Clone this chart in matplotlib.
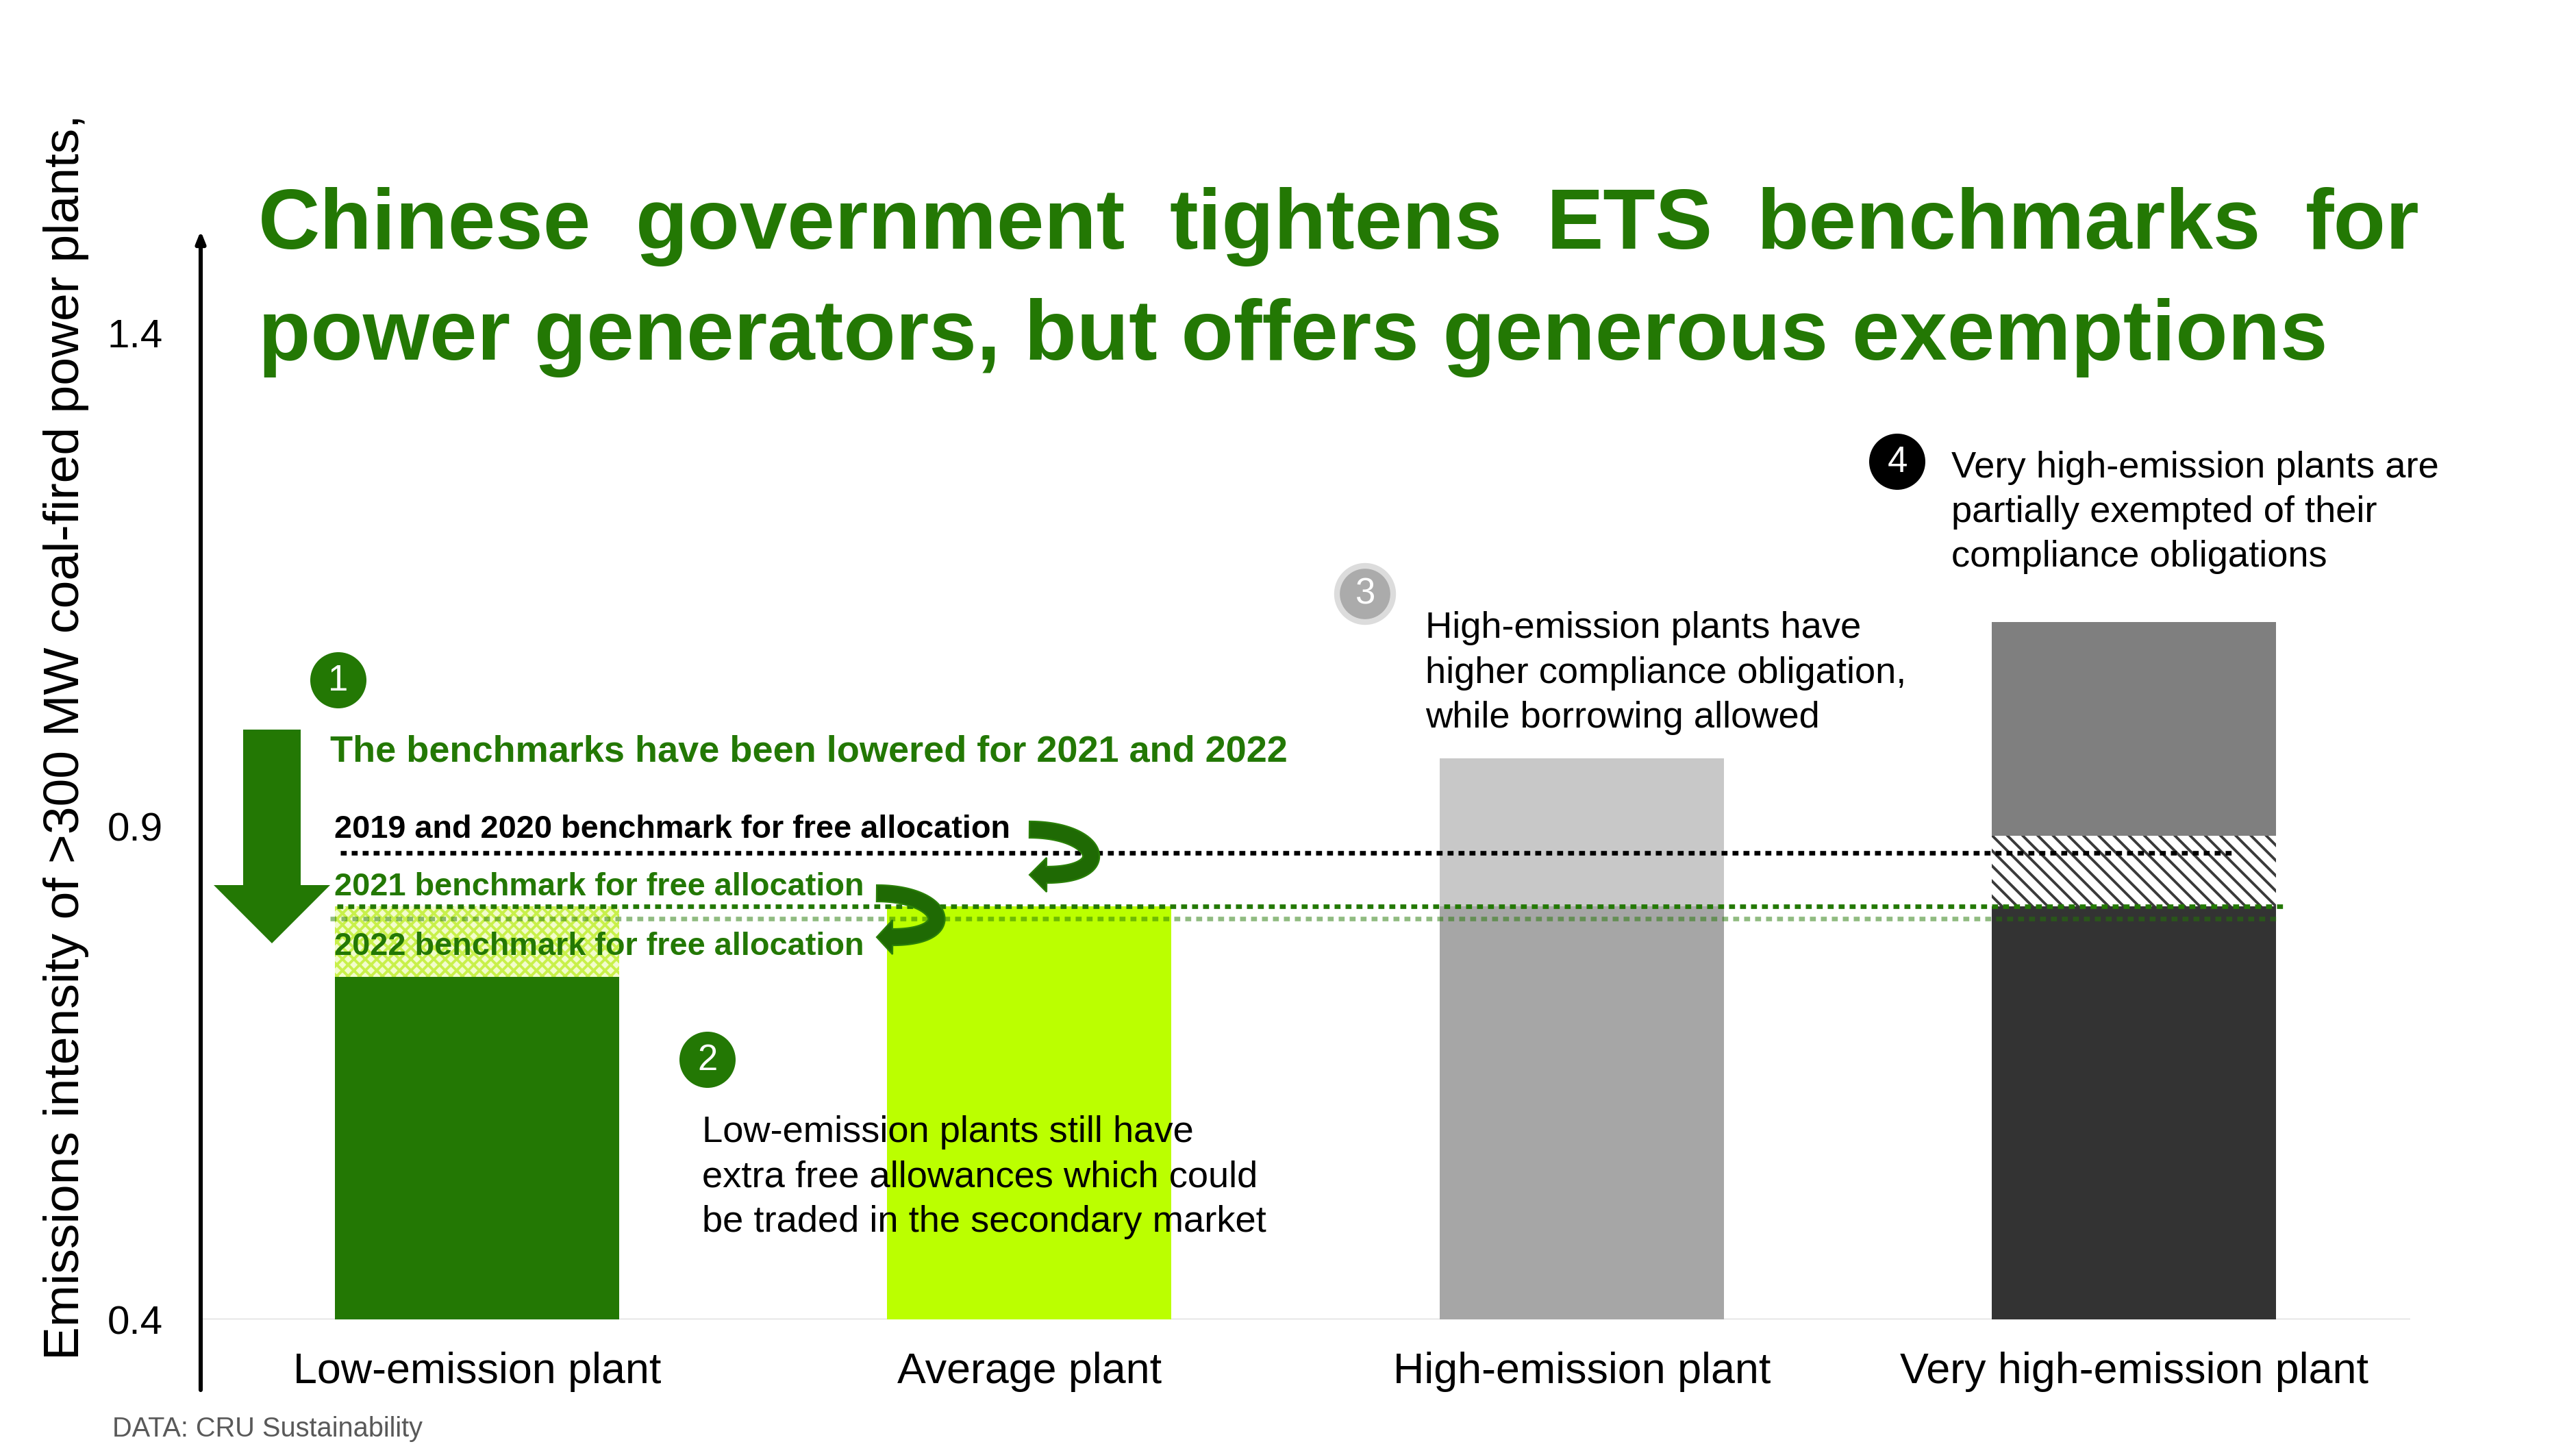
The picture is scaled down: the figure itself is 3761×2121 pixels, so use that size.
import matplotlib
matplotlib.use('Agg')
import numpy as np
import matplotlib.pyplot as plt
from matplotlib.patches import Circle, Polygon

# ---------------- data ----------------
categories = ['Low-emission plant', 'Average plant', 'High-emission plant',
              'Very high-emission plant']
plant_intensity = [0.747, 0.819, 0.969, 1.107]
benchmark_2019_2020 = 0.873
benchmark_2021 = 0.819
benchmark_2022 = 0.806
exemption_cap = 0.890
y_ticks = [0.4, 0.9, 1.4]
y_tick_labels = ['0.4', '0.9', '1.4']
y_base = 0.4

title_line1 = 'Chinese government tightens ETS benchmarks for'
title_line2 = 'power generators, but offers generous exemptions'
note1 = 'The benchmarks have been lowered for 2021 and 2022'
label_2019 = '2019 and 2020 benchmark for free allocation'
label_2021 = '2021 benchmark for free allocation'
label_2022 = '2022 benchmark for free allocation'
note2 = ['Low-emission plants still have', 'extra free allowances which could',
         'be traded in the secondary market']
note3 = ['High-emission plants have', 'higher compliance obligation,',
         'while borrowing allowed']
note4 = ['Very high-emission plants are', 'partially exempted of their',
         'compliance obligations']
y_label = 'Emissions intensity of >300 MW coal-fired power plants,'
source = 'DATA: CRU Sustainability'

# ---------------- style ----------------
W, H, DPI = 3761, 2121, 200
GREEN = '#237804'
LIME = '#bbff00'
FONT = 'Liberation Sans'
plt.rcParams['font.family'] = [FONT, 'DejaVu Sans']
plt.rcParams['hatch.linewidth'] = 1.4

fig = plt.figure(figsize=(W / DPI, H / DPI), dpi=DPI)
IN = fig.dpi_scale_trans


def P(x, y):
    """pixel (from top-left) -> inches for dpi_scale_trans"""
    return (x / DPI, (H - y) / DPI)


ax = fig.add_axes([293 / W, 1 - 1926 / H, (3519 - 293) / W, (1926 - 486) / H])
ax.set_xlim(-0.5, 3.5)
ax.set_ylim(0.4, 1.4)
for s in ax.spines.values():
    s.set_visible(False)

x = list(range(len(categories)))
bw = 0.515

# low-emission plant
ax.bar(x[0], plant_intensity[0] - y_base, bottom=y_base, width=bw, color=GREEN, lw=0, zorder=2)
ax.bar(x[0], benchmark_2021 - plant_intensity[0], bottom=plant_intensity[0], width=bw,
       facecolor='#f2fccc', edgecolor='#c8f04a', hatch='xxxx', lw=0, zorder=2)
# average plant
ax.bar(x[1], plant_intensity[1] - y_base, bottom=y_base, width=bw, color=LIME, lw=0, zorder=2)
# high-emission plant
ax.bar(x[2], benchmark_2021 - y_base, bottom=y_base, width=bw, color='#a6a6a6', lw=0, zorder=2)
ax.bar(x[2], plant_intensity[2] - benchmark_2021, bottom=benchmark_2021, width=bw,
       color='#c8c8c8', lw=0, zorder=2)
# very high-emission plant
ax.bar(x[3], benchmark_2021 - y_base, bottom=y_base, width=bw, color='#333333', lw=0, zorder=2)
ax.bar(x[3], exemption_cap - benchmark_2021, bottom=benchmark_2021, width=bw,
       facecolor='white', edgecolor='#3a3a3a', hatch='\\\\\\', lw=0, zorder=2)
ax.bar(x[3], plant_intensity[3] - exemption_cap, bottom=exemption_cap, width=bw,
       color='#7f7f7f', lw=0, zorder=2)

# benchmark lines
dot = (0, (1.3, 1.1))
ax.hlines(benchmark_2019_2020, -0.247, 3.178, colors='black', lw=2.4, linestyles=dot, zorder=4)
ax.hlines(benchmark_2021, -0.253, 3.272, colors=GREEN, lw=2.4, linestyles=dot, zorder=4)
ax.hlines(benchmark_2022, -0.266, 3.257, colors=GREEN, alpha=0.5, lw=2.4, linestyles=dot, zorder=4)

# baseline gridline
ax.axhline(y_base, color='#d9d9d9', lw=1.2, zorder=1)

ax.set_xticks(x)
ax.set_xticklabels(categories, fontsize=22.6)
ax.set_yticks(y_ticks)
ax.set_yticklabels(y_tick_labels, fontsize=21)
ax.tick_params(axis='both', length=0)
ax.tick_params(axis='x', pad=17)
ax.tick_params(axis='y', pad=20)

# y axis arrow
ax.annotate('', xy=(0, (1 - 337 / H)), xytext=(0, 1 - 2029 / H),
            xycoords=('axes fraction', 'figure fraction'),
            textcoords=('axes fraction', 'figure fraction'),
            arrowprops=dict(arrowstyle='-|>,head_length=0.5,head_width=0.2', lw=2.2,
                            color='black', shrinkA=0, shrinkB=0), annotation_clip=False)

# y label
fig.text(97 / W, 1 - 1076 / H, y_label, rotation=90, ha='center', va='center',
         fontsize=26.4, color='black')

# title (line 1 justified)
tx0, tx1 = 377, 3532
tsize = 45
renderer = fig.canvas.get_renderer()
words = title_line1.split(' ')
arts = [fig.text(*P(tx0, 363), w, transform=IN, fontsize=tsize, fontweight='bold',
                 color=GREEN, va='baseline', ha='left') for w in words]
widths = [a.get_window_extent(renderer).width for a in arts]
gap = ((tx1 - tx0) - sum(widths)) / (len(words) - 1)
cur = tx0
for a, w in zip(arts, widths):
    a.set_position(P(cur, 363))
    cur += w + gap
fig.text(*P(tx0, 525), title_line2, transform=IN, fontsize=tsize, fontweight='bold',
         color=GREEN, va='baseline', ha='left')

# big down arrow
arrow_pts = [P(355, 1065), P(439, 1065), P(439, 1292), P(482, 1292), P(397, 1377),
             P(312, 1292), P(355, 1292)]
fig.add_artist(Polygon(arrow_pts, closed=True, transform=IN, color=GREEN, lw=0))


# curved U-turn arrows (ribbon along a cubic curve + left-pointing head)
def u_arrow(start, end, bulge, width, head_len, head_w, color):
    t = np.linspace(0, 1, 80)[:, None]
    p0 = np.array(start, float)
    p3 = np.array(end, float)
    p1 = p0 + [bulge, 0]
    p2 = p3 + [bulge, 0]
    pts = ((1 - t) ** 3) * p0 + 3 * ((1 - t) ** 2) * t * p1 + 3 * (1 - t) * t ** 2 * p2 + t ** 3 * p3
    d = np.gradient(pts, axis=0)
    n = np.stack([-d[:, 1], d[:, 0]], axis=1)
    n /= np.linalg.norm(n, axis=1)[:, None]
    left = pts + n * width / 2
    right = pts - n * width / 2
    ex, ey = end
    head = [(ex, ey - head_w / 2), (ex - head_len, ey), (ex, ey + head_w / 2)]
    poly = list(map(tuple, left)) + head + list(map(tuple, right[::-1]))
    fig.add_artist(Polygon([P(px, py) for px, py in poly], closed=True, transform=IN,
                           facecolor=color, edgecolor='#2a8008', lw=0.8))


u_arrow((1503, 1211), (1528, 1277), 102, 24, 25, 50, '#1f6a04')
u_arrow((1280, 1304), (1303, 1368), 100, 24, 23, 50, '#1f6a04')

# numbered circles
def badge(cx, cy, num, fc, ec=None):
    c = Circle(P(cx, cy), 41 / DPI, transform=IN, facecolor=fc,
               edgecolor=ec if ec else fc, lw=3 if ec else 0)
    fig.add_artist(c)
    fig.text(*P(cx, cy + 1), num, transform=IN, ha='center', va='center',
             fontsize=19, color='white')

badge(494, 993, '1', GREEN)
badge(1033, 1547, '2', GREEN)
badge(1993, 867, '3', '#ababab', '#dcdcdc')
badge(2770, 674, '4', 'black')

# notes
fig.text(*P(482, 1112), note1, transform=IN, fontsize=19.5, fontweight='bold',
         color=GREEN, va='baseline')
fig.text(*P(488, 1223), label_2019, transform=IN, fontsize=16.9, fontweight='bold',
         color='black', va='baseline')
fig.text(*P(488, 1307), label_2021, transform=IN, fontsize=16.9, fontweight='bold',
         color=GREEN, va='baseline')
fig.text(*P(488, 1394), label_2022, transform=IN, fontsize=16.9, fontweight='bold',
         color=GREEN, va='baseline')

for i, line in enumerate(note2):
    fig.text(*P(1025, 1667 + 65.5 * i), line, transform=IN, fontsize=19.6, va='baseline')
for i, line in enumerate(note3):
    fig.text(*P(2081, 931 + 65.5 * i), line, transform=IN, fontsize=19.6, va='baseline')
for i, line in enumerate(note4):
    fig.text(*P(2849, 696.5 + 65.5 * i), line, transform=IN, fontsize=19.6, va='baseline')

# source
fig.text(*P(164.5, 2097), source, transform=IN, fontsize=14.3, color='#595959', va='baseline')

fig.savefig('out.png', dpi=DPI)
